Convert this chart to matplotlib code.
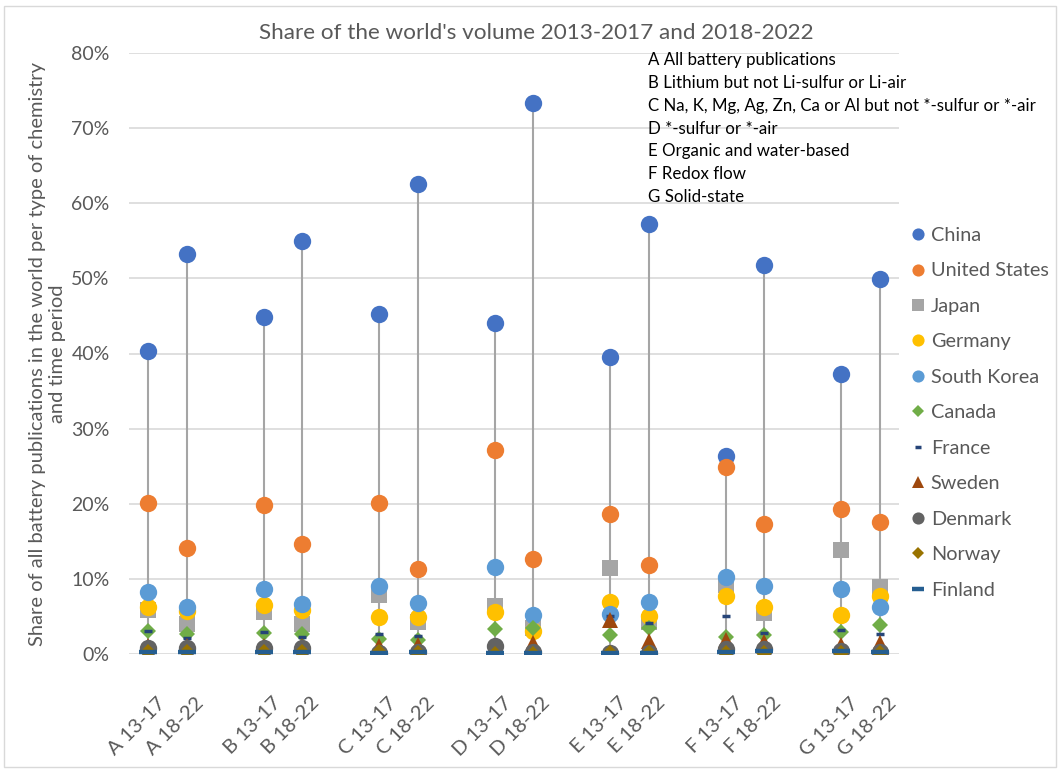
import matplotlib
matplotlib.use("Agg")
import matplotlib.pyplot as plt
from matplotlib.patches import Rectangle
from matplotlib.ticker import PercentFormatter
from matplotlib.transforms import ScaledTranslation

plt.rcParams['font.family'] = ['Lato', 'DejaVu Sans']

# categories: chemistry groups and time periods
groups = ['A', 'B', 'C', 'D', 'E', 'F', 'G']
periods = ['13-17', '18-22']
group_notes = [
    'A All battery publications',
    'B Lithium but not Li-sulfur or Li-air',
    'C Na, K, Mg, Ag, Zn, Ca or Al but not *-sulfur or *-air',
    'D *-sulfur or *-air',
    'E Organic and water-based',
    'F Redox flow',
    'G Solid-state',
]

# share (%) per country, order A13, A18, B13, B18, ... G13, G18
china = [40.3, 53.3, 44.9, 55.0, 45.3, 62.5, 44.0, 73.4, 39.6, 57.2, 26.3, 51.8, 37.3, 49.9]
united_states = [20.1, 14.1, 19.9, 14.6, 20.1, 11.3, 27.2, 12.6, 18.7, 11.9, 24.9, 17.3, 19.3, 17.6]
japan = [5.9, 4.0, 5.6, 4.0, 7.9, 4.3, 6.4, 3.5, 11.4, 4.3, 9.2, 5.4, 13.9, 8.9]
germany = [6.2, 5.7, 6.5, 5.9, 4.9, 4.9, 5.6, 3.0, 6.9, 5.0, 7.7, 6.3, 5.2, 7.7]
south_korea = [8.3, 6.3, 8.6, 6.7, 9.0, 6.8, 11.6, 5.2, 5.3, 6.9, 10.3, 9.0, 8.6, 6.2]
canada = [3.0, 2.7, 2.8, 2.6, 2.0, 1.9, 3.3, 3.4, 2.5, 3.4, 2.3, 2.5, 2.9, 3.8]
france = [3.0, 2.1, 2.9, 2.2, 2.7, 2.4, 0.1, 0.2, 5.1, 4.1, 5.0, 2.8, 3.2, 2.7]
sweden = [1.0, 1.0, 1.0, 1.0, 1.0, 1.2, 0.0, 1.5, 4.5, 1.7, 1.8, 1.6, 1.2, 1.4]
denmark = [0.8, 0.8, 0.8, 0.8, 0.1, 0.2, 1.1, 0.3, 0.1, 0.1, 0.7, 0.7, 0.4, 0.3]
norway = [0.3, 0.3, 0.3, 0.3, 0.3, 0.1, 0.0, 0.0, 0.1, 0.1, 0.1, 0.1, 0.1, 0.1]
finland = [0.3, 0.3, 0.3, 0.3, 0.1, 0.2, 0.1, 0.1, 0.1, 0.1, 0.3, 0.4, 0.4, 0.3]

countries = ['China', 'United States', 'Japan', 'Germany', 'South Korea', 'Canada',
             'France', 'Sweden', 'Denmark', 'Norway', 'Finland']
series = [china, united_states, japan, germany, south_korea, canada,
          france, sweden, denmark, norway, finland]

# marker styles (Office-like palette)
styles = {
    'China':         dict(marker='o', color='#4472c4', ms=12.5),
    'United States': dict(marker='o', color='#ed7d31', ms=12.5),
    'Japan':         dict(marker='s', color='#a5a5a5', ms=11.5),
    'Germany':       dict(marker='o', color='#ffc000', ms=12.5),
    'South Korea':   dict(marker='o', color='#5b9bd5', ms=12.5),
    'Canada':        dict(marker='D', color='#70ad47', ms=8.5),
    'France':        dict(marker='_', color='#264478', ms=6, mew=2.5),
    'Sweden':        dict(marker='^', color='#9e480e', ms=12),
    'Denmark':       dict(marker='o', color='#636363', ms=12.5),
    'Norway':        dict(marker='D', color='#997300', ms=8.5),
    'Finland':       dict(marker='_', color='#255e91', ms=12.5, mew=3.2),
}

# slot positions: two periods per group with an empty slot in between
positions = [3 * g + p for g in range(len(groups)) for p in range(len(periods))]
labels = [f'{g} {p}' for g in groups for p in periods]

fig = plt.figure(figsize=(10.6, 7.69), dpi=100)
ax = fig.add_axes([129 / 1060, 1 - 654 / 769, 770 / 1060, 601 / 769])

# high-low lines
for i, x in enumerate(positions):
    vals = [s[i] for s in series]
    ax.vlines(x, min(vals), max(vals), color='#a5a5a5', lw=1.5, zorder=2)

for z, (name, vals) in enumerate(zip(countries, series)):
    st = styles[name]
    ax.plot(positions, vals, linestyle='none', marker=st['marker'], color=st['color'],
            markersize=st['ms'], markeredgewidth=st.get('mew', 0),
            markeredgecolor=st['color'] if st['marker'] == '_' else 'none',
            label=name, zorder=3 + z)

ax.set_xlim(-0.5, 19.5)
ax.set_ylim(0, 80)
ax.set_yticks(range(0, 81, 10))
ax.yaxis.set_major_formatter(PercentFormatter(decimals=0))
ax.set_xticks(positions)
ax.set_xticklabels(labels, rotation=45, ha='right', rotation_mode='anchor')
ax.tick_params(axis='x', length=0, pad=29, labelsize=14.5, labelcolor='#595959')
ax.tick_params(axis='y', length=0, pad=14, labelsize=14, labelcolor='#595959')
shift = ScaledTranslation(8 / 100, 0, fig.dpi_scale_trans)
for lbl in ax.get_xticklabels():
    lbl.set_transform(lbl.get_transform() + shift)
ax.grid(axis='y', color='#d9d9d9', lw=1.2, zorder=0)
for sp in ax.spines.values():
    sp.set_visible(False)

ax.set_ylabel('Share of all battery publications in the world per type of chemistry\nand time period',
              fontsize=14.5, color='#595959')
ax.yaxis.set_label_coords(-0.082, 0.5)

fig.text(536 / 1060, 1 - 33 / 769, "Share of the world's volume 2013-2017 and 2018-2022",
         ha='center', va='center', fontsize=16.2, color='#595959')

for k, note in enumerate(group_notes):
    fig.text(648 / 1060, 1 - (60.5 + k * 22.7) / 769, note, ha='left', va='center',
             fontsize=12.2, color='black')

leg = ax.legend(loc='upper left', bbox_to_anchor=(910 / 1060, 1 - 227 / 769),
                bbox_transform=fig.transFigure, frameon=False, fontsize=14.3,
                labelspacing=0.93, handlelength=0.8, handletextpad=0.25,
                markerscale=0.7, borderpad=0, borderaxespad=0)
for t in leg.get_texts():
    t.set_color('#595959')

fig.patches.append(Rectangle((4 / 1060, 0.003), 1 - 8 / 1060, 1 - 8 / 769,
                             transform=fig.transFigure, fill=False,
                             edgecolor='#d9d9d9', lw=1))

fig.savefig('out.png', dpi=100)
